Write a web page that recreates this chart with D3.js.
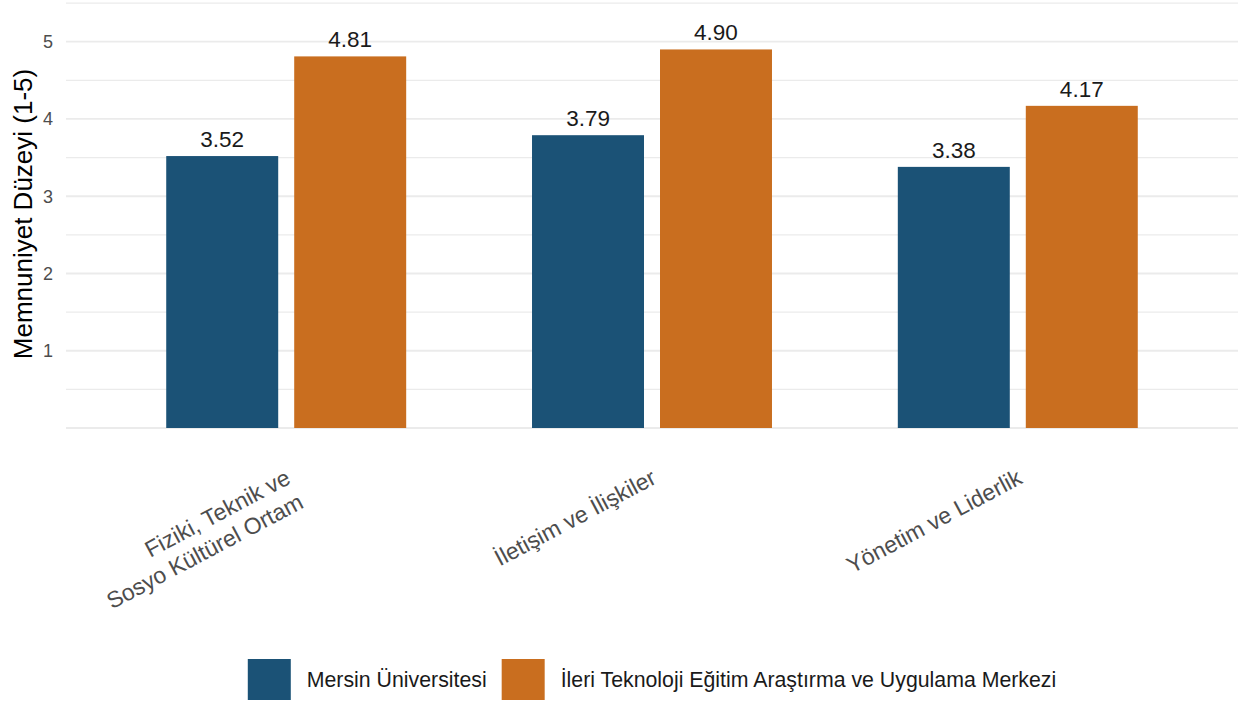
<!DOCTYPE html>
<html>
<head>
<meta charset="utf-8">
<script src="https://cdn.jsdelivr.net/npm/d3@7"></script>
<style>
  body { margin: 0; background: #fff; }
  svg { font-family: "Liberation Sans", Arial, sans-serif; }
</style>
</head>
<body>
<div id="chart"></div>
<script>
'use strict';

// data
var categories = ['Fiziki, Teknik ve\nSosyo Kültürel Ortam', 'İletişim ve İlişkiler', 'Yönetim ve Liderlik'];
var seriesNames = ['Mersin Üniversitesi', 'İleri Teknoloji Eğitim Araştırma ve Uygulama Merkezi'];
var mersinValues = [3.52, 3.79, 3.38];
var iteumValues = [4.81, 4.90, 4.17];
var yTickValues = [1, 2, 3, 4, 5];
var colors = ['#1b5276', '#c96e1f'];

var w = 1239, h = 706;
var margin = { top: 0, right: 1, bottom: 278, left: 66 };
var innerW = w - margin.left - margin.right;
var innerH = h - margin.top - margin.bottom;

var svg = d3.select('#chart').append('svg')
    .attr('width', w)
    .attr('height', h);

var g = svg.append('g')
    .attr('transform', 'translate(' + margin.left + ',' + margin.top + ')');

// scales
var x = d3.scalePoint()
    .domain(categories)
    .range([0, innerW])
    .padding(0.602);

var step = x.step();
var xInner = d3.scaleBand()
    .domain(seriesNames)
    .range([-step * 0.328, step * 0.328])
    .paddingInner(0.125);

var y = d3.scaleLinear()
    .domain([0, 5.54])
    .range([innerH, 0]);

// grid lines (major + minor)
var gridVals = d3.range(0, 5.51, 0.5);
g.append('g').attr('class', 'grid')
  .selectAll('line')
    .data(gridVals)
  .enter().append('line')
    .attr('x1', 0)
    .attr('x2', innerW)
    .attr('y1', function (d) { return y(d); })
    .attr('y2', function (d) { return y(d); })
    .style('stroke', '#ebebeb')
    .style('stroke-width', function (d) { return d % 1 === 0 ? 1.8 : 1.2; });

// y axis labels
g.append('g')
  .selectAll('text')
    .data(yTickValues)
  .enter().append('text')
    .attr('x', -13)
    .attr('y', function (d) { return y(d); })
    .attr('dy', '.36em')
    .style('text-anchor', 'end')
    .style('font-size', '18px')
    .style('fill', '#4d4d4d')
    .text(function (d) { return d; });

// y title
svg.append('text')
    .attr('transform', 'translate(32,' + (margin.top + innerH / 2) + ') rotate(-90)')
    .style('text-anchor', 'middle')
    .style('font-size', '26px')
    .style('fill', '#000')
    .text('Memnuniyet Düzeyi (1-5)');

// bars
var table = categories.map(function (c, i) {
  return { cat: c, vals: [
    { series: seriesNames[0], value: mersinValues[i], color: colors[0] },
    { series: seriesNames[1], value: iteumValues[i], color: colors[1] }
  ] };
});

var groups = g.selectAll('g.group')
    .data(table)
  .enter().append('g')
    .attr('class', 'group')
    .attr('transform', function (d) { return 'translate(' + x(d.cat) + ',0)'; });

groups.selectAll('rect')
    .data(function (d) { return d.vals; })
  .enter().append('rect')
    .attr('x', function (d) { return xInner(d.series); })
    .attr('width', xInner.bandwidth())
    .attr('y', function (d) { return y(d.value); })
    .attr('height', function (d) { return y(0) - y(d.value); })
    .style('fill', function (d) { return d.color; });

groups.selectAll('text.value')
    .data(function (d) { return d.vals; })
  .enter().append('text')
    .attr('class', 'value')
    .attr('x', function (d) { return xInner(d.series) + xInner.bandwidth() / 2; })
    .attr('y', function (d) { return y(d.value) - 9; })
    .style('text-anchor', 'middle')
    .style('font-size', '22.5px')
    .style('fill', '#1a1a1a')
    .text(function (d) { return d3.format('.2f')(d.value); });

// x axis labels, rotated
var xl = g.append('g').selectAll('text')
    .data(categories)
  .enter().append('text')
    .attr('transform', function (d) { return 'translate(' + (x(d) - 2) + ',' + (innerH + 40) + ') rotate(-28)'; })
    .style('text-anchor', 'end')
    .style('font-size', '23px')
    .style('fill', '#4d4d4d');

xl.each(function (d) {
  var lines = d.split('\n');
  var t = d3.select(this);
  lines.forEach(function (ln, i) {
    t.append('tspan')
        .attr('x', 0)
        .attr('dy', i === 0 ? '0.72em' : '1.2em')
        .text(ln);
  });
});

// legend, centered under panel
var legend = svg.append('g').attr('class', 'legend');
var keyW = 43, keyH = 41, keyGap = 16, itemGap = 15;
var items = legend.selectAll('g.item')
    .data(seriesNames)
  .enter().append('g')
    .attr('class', 'item');

items.append('rect')
    .attr('width', keyW)
    .attr('height', keyH)
    .style('fill', function (d, i) { return colors[i]; });

items.append('text')
    .attr('x', keyW + keyGap)
    .attr('y', keyH / 2)
    .attr('dy', '.35em')
    .style('font-size', '21.3px')
    .style('fill', '#1a1a1a')
    .text(function (d) { return d; });

var widths = [];
items.each(function () {
  widths.push(keyW + keyGap + d3.select(this).select('text').node().getComputedTextLength());
});
var total = d3.sum(widths) + itemGap * (widths.length - 1);
var lx = margin.left + innerW / 2 - total / 2;
items.attr('transform', function (d, i) {
  var off = lx + d3.sum(widths.slice(0, i)) + itemGap * i;
  return 'translate(' + off + ',659)';
});
</script>
</body>
</html>
